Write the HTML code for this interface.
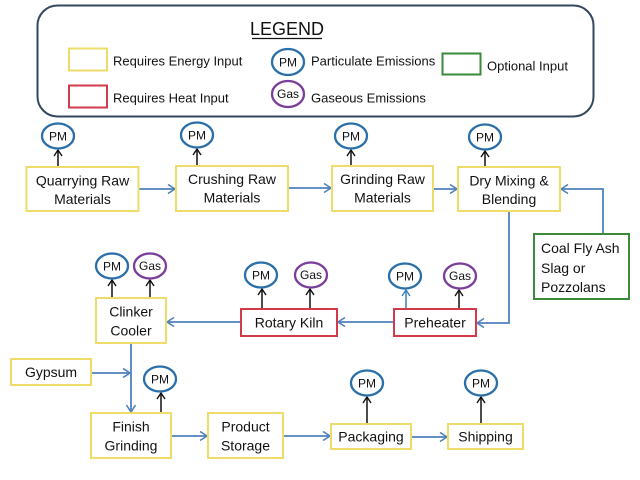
<!DOCTYPE html>
<html>
<head>
<meta charset="utf-8">
<style>
html,body{margin:0;padding:0;background:#fff;}
svg{display:block;}
text{font-family:"Liberation Sans",sans-serif;fill:#111;}
</style>
</head>
<body>
<svg width="640" height="480" viewBox="0 0 640 480" xmlns="http://www.w3.org/2000/svg">
<defs>
<marker id="ab" markerUnits="userSpaceOnUse" markerWidth="12" markerHeight="12" refX="8" refY="5" orient="auto">
<path d="M1,0.5 L8,5 L1,9.5" fill="none" stroke="#4f81bd" stroke-width="1.6"/>
</marker>
<marker id="ak" markerUnits="userSpaceOnUse" markerWidth="10" markerHeight="10" refX="7" refY="4.5" orient="auto">
<path d="M1,0.5 L7,4.5 L1,8.5" fill="none" stroke="#111" stroke-width="1.4"/>
</marker>
<marker id="at" markerUnits="userSpaceOnUse" markerWidth="10" markerHeight="10" refX="7" refY="4.5" orient="auto">
<path d="M1,0.5 L7,4.5 L1,8.5" fill="none" stroke="#3b82b8" stroke-width="1.4"/>
</marker>
</defs>

<!-- Legend -->
<rect x="37.5" y="5.5" width="556" height="111" rx="20" ry="20" fill="#fff" stroke="#33475f" stroke-width="2"/>
<text x="287" y="35" font-size="18" text-anchor="middle">LEGEND</text>
<line x1="252" y1="38.5" x2="322" y2="38.5" stroke="#111" stroke-width="1.2"/>
<rect x="69" y="48.5" width="38" height="22" fill="none" stroke="#eedc6a" stroke-width="2"/>
<text x="113" y="65.5" font-size="13">Requires Energy Input</text>
<rect x="69" y="85.5" width="38" height="22" fill="none" stroke="#d03a4a" stroke-width="2"/>
<text x="113" y="102.5" font-size="13">Requires Heat Input</text>
<ellipse cx="288" cy="62" rx="16" ry="13" fill="#fff" stroke="#2a6fa8" stroke-width="2.3"/>
<text x="288" y="66.5" font-size="12" text-anchor="middle">PM</text>
<text x="311" y="65.5" font-size="13">Particulate Emissions</text>
<ellipse cx="288" cy="94" rx="16" ry="13" fill="#fff" stroke="#7a3d9a" stroke-width="2.3"/>
<text x="288" y="98" font-size="12" text-anchor="middle">Gas</text>
<text x="311" y="102.5" font-size="13">Gaseous Emissions</text>
<rect x="442.5" y="53.5" width="38" height="21" fill="none" stroke="#3a8a3a" stroke-width="2"/>
<text x="487" y="70.5" font-size="13">Optional Input</text>

<!-- Blue connectors -->
<g fill="none" stroke="#4f81bd" stroke-width="1.8">
<line x1="139" y1="189" x2="175" y2="189" marker-end="url(#ab)"/>
<line x1="288" y1="188" x2="331" y2="188" marker-end="url(#ab)"/>
<line x1="433" y1="189" x2="457" y2="189" marker-end="url(#ab)"/>
<polyline points="603,234 603,189 561,189" marker-end="url(#ab)"/>
<polyline points="509,211 509,323 477,323" marker-end="url(#ab)"/>
<line x1="394" y1="322" x2="338" y2="322" marker-end="url(#ab)"/>
<line x1="241" y1="322" x2="167" y2="322" marker-end="url(#ab)"/>
<line x1="131" y1="343" x2="131" y2="412" marker-end="url(#ab)"/>
<line x1="91" y1="373" x2="130" y2="373" marker-end="url(#ab)"/>
<line x1="171" y1="436" x2="207" y2="436" marker-end="url(#ab)"/>
<line x1="283" y1="436" x2="330" y2="436" marker-end="url(#ab)"/>
<line x1="411" y1="437" x2="447" y2="437" marker-end="url(#ab)"/>
</g>

<!-- Emission arrows -->
<g fill="none" stroke="#111" stroke-width="1.5">
<line x1="58" y1="167" x2="58" y2="150" marker-end="url(#ak)"/>
<line x1="197" y1="166" x2="197" y2="149" marker-end="url(#ak)"/>
<line x1="351" y1="166" x2="351" y2="150" marker-end="url(#ak)"/>
<line x1="485" y1="167" x2="485" y2="151" marker-end="url(#ak)"/>
<line x1="112" y1="298" x2="112" y2="280" marker-end="url(#ak)"/>
<line x1="150" y1="298" x2="150" y2="280" marker-end="url(#ak)"/>
<line x1="262" y1="309" x2="262" y2="289" marker-end="url(#ak)"/>
<line x1="310" y1="309" x2="310" y2="289" marker-end="url(#ak)"/>
<line x1="459" y1="309" x2="459" y2="290" marker-end="url(#ak)"/>
<line x1="161" y1="413" x2="161" y2="393" marker-end="url(#ak)"/>
<line x1="367" y1="424" x2="367" y2="397" marker-end="url(#ak)"/>
<line x1="481" y1="424" x2="481" y2="397" marker-end="url(#ak)"/>
</g>
<line x1="406" y1="309" x2="406" y2="290" stroke="#3b82b8" stroke-width="1.5" marker-end="url(#at)"/>

<!-- Emission circles -->
<g stroke-width="2.3" fill="#fff">
<ellipse cx="58" cy="136" rx="16" ry="12.5" stroke="#2a6fa8"/>
<ellipse cx="197" cy="135" rx="16" ry="12.5" stroke="#2a6fa8"/>
<ellipse cx="351" cy="136" rx="16" ry="12.5" stroke="#2a6fa8"/>
<ellipse cx="485" cy="137" rx="16" ry="12.5" stroke="#2a6fa8"/>
<ellipse cx="112" cy="266" rx="16" ry="12.5" stroke="#2a6fa8"/>
<ellipse cx="150" cy="266" rx="16" ry="12.5" stroke="#7a3d9a"/>
<ellipse cx="261" cy="275" rx="16" ry="12.5" stroke="#2a6fa8"/>
<ellipse cx="311" cy="275" rx="16" ry="12.5" stroke="#7a3d9a"/>
<ellipse cx="405" cy="276" rx="16" ry="12.5" stroke="#2a6fa8"/>
<ellipse cx="460" cy="276" rx="16" ry="12.5" stroke="#7a3d9a"/>
<ellipse cx="160" cy="379" rx="16" ry="12.5" stroke="#2a6fa8"/>
<ellipse cx="367" cy="383" rx="16" ry="12.5" stroke="#2a6fa8"/>
<ellipse cx="481" cy="383" rx="16" ry="12.5" stroke="#2a6fa8"/>
</g>
<g font-size="12" text-anchor="middle">
<text x="58" y="140.5">PM</text>
<text x="197" y="139.5">PM</text>
<text x="351" y="140.5">PM</text>
<text x="485" y="141.5">PM</text>
<text x="112" y="270.5">PM</text>
<text x="150" y="270">Gas</text>
<text x="261" y="279.5">PM</text>
<text x="311" y="279">Gas</text>
<text x="405" y="280.5">PM</text>
<text x="460" y="280">Gas</text>
<text x="160" y="383.5">PM</text>
<text x="367" y="387.5">PM</text>
<text x="481" y="387.5">PM</text>
</g>

<!-- Process boxes -->
<g fill="#fff" stroke-width="2">
<rect x="26.5" y="167" width="112" height="44" stroke="#eedc6a"/>
<rect x="176" y="166" width="112" height="45" stroke="#eedc6a"/>
<rect x="332" y="166" width="101" height="45" stroke="#eedc6a"/>
<rect x="458" y="167" width="102" height="44" stroke="#eedc6a"/>
<rect x="534" y="234" width="95" height="65" stroke="#3a8a3a"/>
<rect x="96" y="298" width="70" height="45" stroke="#eedc6a"/>
<rect x="241" y="309" width="96" height="27" stroke="#d03a4a"/>
<rect x="394" y="309" width="82" height="27" stroke="#d03a4a"/>
<rect x="11" y="359" width="80" height="26" stroke="#eedc6a"/>
<rect x="91" y="413" width="80" height="45" stroke="#eedc6a"/>
<rect x="208" y="413" width="75" height="45" stroke="#eedc6a"/>
<rect x="331" y="424" width="80" height="25" stroke="#eedc6a"/>
<rect x="448" y="424" width="75" height="25" stroke="#eedc6a"/>
</g>

<g font-size="14" text-anchor="middle">
<text x="82.5" y="185.5">Quarrying Raw</text>
<text x="82.5" y="204">Materials</text>
<text x="232" y="184">Crushing Raw</text>
<text x="232" y="202.5">Materials</text>
<text x="382.5" y="184">Grinding Raw</text>
<text x="382.5" y="202.5">Materials</text>
<text x="509" y="185.5">Dry Mixing &amp;</text>
<text x="509" y="204">Blending</text>
<text x="131" y="316.5">Clinker</text>
<text x="131" y="335.5">Cooler</text>
<text x="289" y="327.5">Rotary Kiln</text>
<text x="435" y="327.5">Preheater</text>
<text x="51" y="377">Gypsum</text>
<text x="131" y="431.5">Finish</text>
<text x="131" y="450.5">Grinding</text>
<text x="245.5" y="431.5">Product</text>
<text x="245.5" y="450.5">Storage</text>
<text x="371" y="441.5">Packaging</text>
<text x="485.5" y="441.5">Shipping</text>
</g>
<g font-size="14">
<text x="541" y="253">Coal Fly Ash</text>
<text x="541" y="273">Slag or</text>
<text x="541" y="292">Pozzolans</text>
</g>
</svg>
</body>
</html>
